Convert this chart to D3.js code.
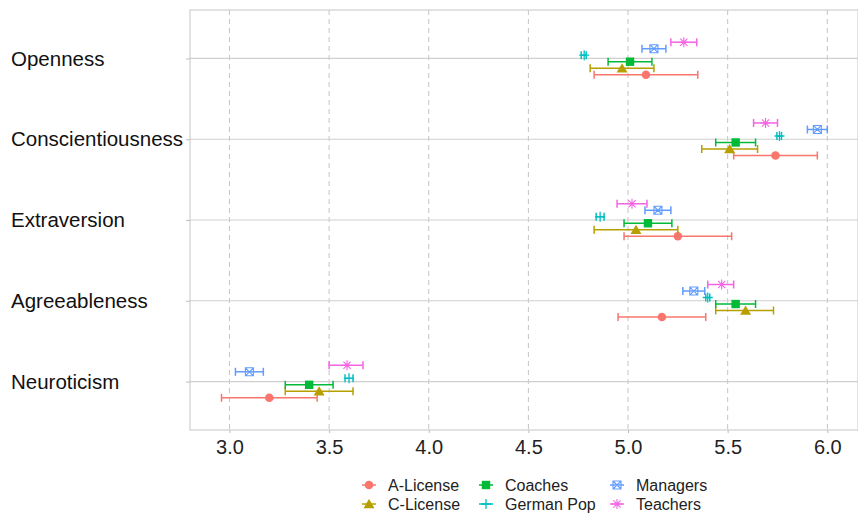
<!DOCTYPE html>
<html>
<head>
<meta charset="utf-8">
<script src="https://cdn.jsdelivr.net/npm/d3@7"></script>
<style>
  body { margin: 0; background: #fff; }
  svg { font-family: "Liberation Sans", Arial, sans-serif; }
</style>
</head>
<body>
<div id="chart"></div>
<script>
// traits, top to bottom
const traits = ["Openness", "Conscientiousness", "Extraversion", "Agreeableness", "Neuroticism"];
const groups = ["A-License", "C-License", "Coaches", "German Pop", "Managers", "Teachers"];
const xTicks = [3.0, 3.5, 4.0, 4.5, 5.0, 5.5, 6.0];

// mean, lower, upper per group, in trait order
const aLicense  = [[5.09, 4.83, 5.35], [5.74, 5.53, 5.95], [5.25, 4.98, 5.52], [5.17, 4.95, 5.39], [3.20, 2.96, 3.44]];
const cLicense  = [[4.97, 4.81, 5.13], [5.51, 5.37, 5.65], [5.04, 4.83, 5.25], [5.59, 5.44, 5.73], [3.45, 3.28, 3.62]];
const coaches   = [[5.01, 4.90, 5.12], [5.54, 5.44, 5.64], [5.10, 4.98, 5.22], [5.54, 5.44, 5.64], [3.40, 3.28, 3.52]];
const germanPop = [[4.78, 4.765, 4.79], [5.76, 5.747, 5.77], [4.86, 4.84, 4.88], [5.40, 5.39, 5.41], [3.60, 3.58, 3.62]];
const managers  = [[5.13, 5.07, 5.19], [5.95, 5.90, 6.00], [5.15, 5.085, 5.215], [5.33, 5.275, 5.385], [3.10, 3.03, 3.17]];
const teachers  = [[5.28, 5.215, 5.345], [5.69, 5.63, 5.75], [5.02, 4.945, 5.095], [5.47, 5.40, 5.53], [3.59, 3.50, 3.67]];

const seriesValues = {"A-License": aLicense, "C-License": cLicense, "Coaches": coaches,
                      "German Pop": germanPop, "Managers": managers, "Teachers": teachers};
const colors = ["#F8766D", "#B79F00", "#00BA38", "#00BFC4", "#619CFF", "#F564E3"];

const width = 858, height = 513;
const panel = {left: 190, right: 858, top: 10, bottom: 430};

const svg = d3.select("#chart").append("svg")
  .attr("width", width).attr("height", height);

const x = d3.scaleLinear().domain([2.802, 6.154]).range([panel.left, panel.right]);
const y = d3.scalePoint().domain(traits).range([panel.top, panel.bottom]).padding(0.6);
const dodge = d3.scalePoint().domain(groups.slice().reverse()).range([-16.25, 16.25]);
const color = d3.scaleOrdinal().domain(groups).range(colors);

// grid
svg.append("g").selectAll("line").data(xTicks).join("line")
  .attr("x1", d => x(d)).attr("x2", d => x(d))
  .attr("y1", panel.top).attr("y2", panel.bottom)
  .attr("stroke", "#c4c4c4").attr("stroke-width", 1).attr("stroke-dasharray", "5,4");

svg.append("g").selectAll("line").data(traits).join("line")
  .attr("x1", panel.left).attr("x2", panel.right)
  .attr("y1", d => y(d)).attr("y2", d => y(d))
  .attr("stroke", "#cfcfcf").attr("stroke-width", 1.2);

svg.append("rect")
  .attr("x", panel.left).attr("y", panel.top)
  .attr("width", panel.right - panel.left).attr("height", panel.bottom - panel.top)
  .attr("fill", "none").attr("stroke", "#cfcfcf").attr("stroke-width", 1.2);

// axes
const xAxis = svg.append("g")
  .attr("transform", `translate(0,${panel.bottom})`)
  .call(d3.axisBottom(x).tickValues(xTicks).tickFormat(d3.format(".1f")).tickSize(3).tickPadding(7));
xAxis.select(".domain").remove();
xAxis.selectAll(".tick line").attr("stroke", "#bdbdbd");
xAxis.selectAll(".tick text").attr("font-size", 20).attr("fill", "#222")
  .attr("font-family", "Liberation Sans, Arial, sans-serif");

const yAxis = svg.append("g")
  .attr("transform", `translate(${panel.left},0)`)
  .call(d3.axisLeft(y).tickSize(4).tickPadding(0));
yAxis.select(".domain").remove();
yAxis.selectAll(".tick line").attr("stroke", "#bdbdbd");
yAxis.selectAll(".tick text")
  .attr("x", 11 - panel.left).attr("text-anchor", "start")
  .attr("font-size", 20.5).attr("fill", "#111")
  .attr("font-family", "Liberation Sans, Arial, sans-serif");

// symbols
function drawSymbol(g, name, c) {
  if (name === "A-License") {
    g.append("circle").attr("r", 4.3).attr("fill", c);
  } else if (name === "C-License") {
    g.append("path").attr("d", "M0,-5L5.5,4.3L-5.5,4.3Z").attr("fill", c);
  } else if (name === "Coaches") {
    g.append("rect").attr("x", -4.2).attr("y", -4.2).attr("width", 8.4).attr("height", 8.4).attr("fill", c);
  } else if (name === "German Pop") {
    g.append("path").attr("d", "M-5,0H5M0,-5V5").attr("stroke", c).attr("stroke-width", 1.3).attr("fill", "none");
  } else if (name === "Managers") {
    g.append("path").attr("d", "M-4,-4H4V4H-4ZM-4,-4L4,4M4,-4L-4,4")
      .attr("stroke", c).attr("stroke-width", 1.1).attr("fill", "none");
  } else if (name === "Teachers") {
    g.append("path").attr("d", "M-5,0H5M0,-5V5M-3.6,-3.6L3.6,3.6M3.6,-3.6L-3.6,3.6")
      .attr("stroke", c).attr("stroke-width", 1.1).attr("fill", "none");
  }
}

// error bars and points
const rows = [];
groups.forEach(gname => {
  seriesValues[gname].forEach((v, i) => {
    rows.push({group: gname, trait: traits[i], mean: v[0], lo: v[1], hi: v[2]});
  });
});

const marks = svg.append("g");
rows.forEach(d => {
  const yy = y(d.trait) + dodge(d.group);
  const c = color(d.group);
  const g = marks.append("g");
  g.append("line").attr("x1", x(d.lo)).attr("x2", x(d.hi)).attr("y1", yy).attr("y2", yy)
    .attr("stroke", c).attr("stroke-width", 1.5);
  [d.lo, d.hi].forEach(e => {
    g.append("line").attr("x1", x(e)).attr("x2", x(e)).attr("y1", yy - 4).attr("y2", yy + 4)
      .attr("stroke", c).attr("stroke-width", 1.5);
  });
  const s = g.append("g").attr("transform", `translate(${x(d.mean)},${yy})`);
  drawSymbol(s, d.group, c);
});

// legend (3 columns x 2 rows, column-major)
const legendCols = [369, 486, 617];
const legendRows = [485, 504];
const legend = svg.append("g");
groups.forEach((gname, i) => {
  const cx = legendCols[Math.floor(i / 2)], cy = legendRows[i % 2];
  const c = color(gname);
  const item = legend.append("g").attr("transform", `translate(${cx},${cy})`);
  item.append("line").attr("x1", -7).attr("x2", 7).attr("stroke", c).attr("stroke-width", 1.5);
  drawSymbol(item, gname, c);
  item.append("text").attr("x", 19).attr("y", 0).attr("dy", "0.35em")
    .attr("font-size", 16).attr("fill", "#222").text(gname);
});
</script>
</body>
</html>
